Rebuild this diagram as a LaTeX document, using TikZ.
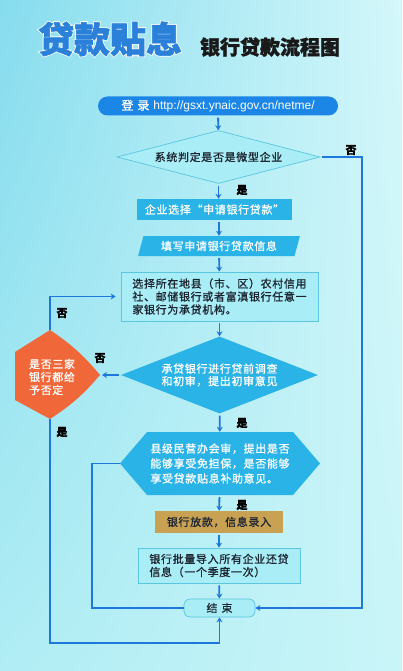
\documentclass[tikz,border=0pt]{standalone}
\usepackage{fontspec}
\usepackage{xcolor}
\usepackage{tikz}
\usetikzlibrary{arrows.meta,positioning,calc,shapes.geometric,shadings}
\setmainfont{Noto Sans CJK SC}[LetterSpace=6,FakeBold=0.9]
\newfontfamily\titlefont{Noto Sans CJK SC}[BoldFeatures={FakeBold=1.6}]
\newfontfamily\rimfont{Noto Sans CJK SC}[BoldFeatures={FakeBold=6}]
\newfontfamily\urlfont{Liberation Sans}
\definecolor{bgtl}{HTML}{86DCEE}
\definecolor{bgtr}{HTML}{D4F7FA}
\definecolor{bgbl}{HTML}{B0EDF4}
\definecolor{bgbr}{HTML}{C9F5F8}
\definecolor{wire}{HTML}{1E78DC}
\definecolor{sky}{HTML}{2AB3E7}
\definecolor{loginblue}{HTML}{1C86E6}
\definecolor{palefill}{HTML}{A9EEF6}
\definecolor{paleedge}{HTML}{5CC5DF}
\definecolor{tan}{HTML}{C9A153}
\definecolor{flame}{HTML}{F0683A}
\definecolor{ink}{HTML}{1C2430}
\definecolor{titleblue}{HTML}{2B80DA}

\begin{document}
\begin{tikzpicture}[x=1pt,y=-1pt,
  txt/.style={font=\fontsize{11}{13}\selectfont},
  pale/.style={txt,draw=paleedge,fill=palefill,line width=0.7pt,text=ink,inner sep=0pt},
  deep/.style={txt,fill=sky,text=white,inner sep=0pt},
  tanbox/.style={txt,fill=tan,text=ink,inner sep=0pt,minimum width=128pt,minimum height=22pt},
  hexbox/.style={txt,text=white,inner sep=0pt,path picture={
    \fill[sky] (path picture bounding box.west)
      -- ($(path picture bounding box.north west)+(27,0)$)
      -- ($(path picture bounding box.north east)+(-27,0)$)
      -- (path picture bounding box.east)
      -- ($(path picture bounding box.south east)+(-27,0)$)
      -- ($(path picture bounding box.south west)+(27,0)$) -- cycle;}},
  pill/.style={fill=loginblue,text=white,rounded corners=9.5pt,inner sep=0pt,minimum width=240pt,minimum height=19pt},
  lbl/.style={font=\bfseries\fontsize{11}{13}\selectfont,text=black,inner sep=0pt},
  wire/.style={draw=wire,line width=1.8pt},
  arr/.style={wire,-{Stealth[length=5pt,width=6pt]},shorten <=2pt}]
  \useasboundingbox (0,0) rectangle (402,671);
  \shade[upper left=bgtl,upper right=bgtr,lower left=bgbl,lower right=bgbr] (0,0) rectangle (402,671);

  % heading
  \node[font=\rimfont\bfseries\fontsize{36}{36}\selectfont,text=white] (title-rim) at (110,39) {贷款贴息};
  \node[font=\titlefont\bfseries\fontsize{36}{36}\selectfont,text=titleblue] (title) at (110,39) {贷款贴息};
  \node[font=\titlefont\bfseries\fontsize{20}{20}\selectfont,text=black!90] (subtitle) at (270,47) {银行贷款流程图};

  % main column
  \node[pill] (login) at (218,106) {\fontsize{12}{12}\selectfont 登\hspace{4pt}录\hspace{4pt}\urlfont http://gsxt.ynaic.gov.cn/netme/};
  \node[pale,diamond,aspect=3.8,minimum width=203pt,minimum height=53pt] (judge) at (218.5,157) {系统判定是否是微型企业};
  \node[deep,minimum width=155pt,minimum height=21pt] (choose) at (214.5,209.5) {企业选择“申请银行贷款”};
  \node[deep,trapezium,trapezium left angle=68,trapezium right angle=112,trapezium stretches,minimum width=162pt,minimum height=20pt] (form) at (219,246) {填写申请银行贷款信息};
  \node[pale,align=left,minimum width=197pt,minimum height=49pt] (pick) at (219.5,296.5) {选择所在地县（市、区）农村信用\\社、邮储银行或者富滇银行任意一\\家银行为承贷机构。};
  \node[deep,diamond,aspect=2.6,minimum width=197pt,minimum height=77pt,align=left,font=\fontsize{11}{12.5}\selectfont] (review) at (219.5,375) {承贷银行进行贷前调查\\和初审，提出初审意见};
  \node[hexbox,align=left,minimum width=200pt,minimum height=63pt,font=\fontsize{11}{15}\selectfont] (audit) at (220,463.5) {县级民营办会审，提出是否\\能够享受免担保，是否能够\\享受贷款贴息补助意见。};
  \node[tanbox] (loan) at (219,522) {银行放款，信息录入};
  \node[pale,align=left,minimum width=162pt,minimum height=35pt] (batch) at (219,565.5) {银行批量导入所有企业还贷\\信息（一个季度一次）};
  \node[pale,rounded corners=6pt,minimum width=71pt,minimum height=18pt] (finish) at (219.5,608) {结\hspace{4pt}束};

  % three banks refused?
  \coordinate (otop) at (50,330);
  \coordinate (oright) at (100,375);
  \coordinate (obot) at (50,419);
  \coordinate (olow) at (15,400);
  \coordinate (oup) at (15,352);
  \fill[flame] (otop) to[bend left=8] (oright) to[bend left=8] (obot) -- (olow) -- (oup) -- cycle;
  \node[txt,text=white,align=left] (veto) at (52,377) {是否三家\\银行都给\\予否定};

  % loop rails
  \coordinate (rright) at (362,0);
  \coordinate (rinner) at (92,0);
  \coordinate (floor) at (0,643);

  \draw[arr] (login) -- (judge);
  \draw[arr] (judge.south) -- (judge.south |- choose.north);
  \draw[arr] (choose.south -| form) -- (form);
  \draw[arr] (form) -- (pick);
  \draw[arr] (pick) -- (review);
  \draw[arr] (review) -- (audit);
  \draw[arr] (audit) -- (loan);
  \draw[arr] (loan) -- (batch);
  \draw[arr] (batch) -- (finish);
  \draw[arr] (judge.east) -| (rright |- finish.east) -- (finish.east);
  \draw[arr,shorten >=2pt] (review.west) -- (oright);
  \draw[arr,shorten <=0pt,shorten >=5pt] (otop) |- (pick.west);
  \draw[arr,shorten <=0pt] (obot) |- (finish.south |- floor) -- (finish.south);
  \draw[wire] (audit.west) -| (rinner |- finish.west) -- (finish.west);

  % yes / no
  \node[lbl] (yes1) at (242,190) {是};
  \node[lbl] (no1) at (351,150) {否};
  \node[lbl] (no2) at (100,358) {否};
  \node[lbl] (no3) at (62,313) {否};
  \node[lbl] (yes2) at (62,432) {是};
  \node[lbl] (yes3) at (242,423) {是};
  \node[lbl] (yes4) at (242,505) {是};
\end{tikzpicture}
\end{document}
